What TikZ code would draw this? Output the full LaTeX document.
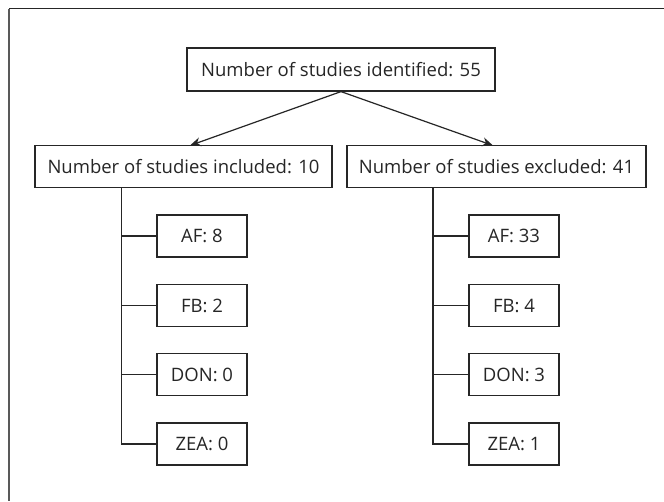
\documentclass[tikz,border=0pt]{standalone}
\usepackage{fontspec}
\setmainfont{Open Sans}
\usetikzlibrary{arrows.meta}
\begin{document}
\begin{tikzpicture}[x=1pt,y=-1pt,
  box/.style={draw=black!85,line width=1.2pt,fill=white,inner sep=0pt,font=\fontsize{18.5}{22}\selectfont,text=black!85},
  bigbox/.style={box,minimum height=42pt},
  smallbox/.style={box,minimum width=90pt,minimum height=42pt},
  conn/.style={draw=black!85,line width=1.2pt},
  arr/.style={conn,-{Stealth[length=11pt,width=9pt]}}]
\useasboundingbox (0,0) rectangle (664,501);
\fill[white] (0,0) rectangle (664,501);
\draw[black!85,line width=1.5pt] (664,8.5) -- (8.5,8.5);
\draw[black!65,line width=2pt] (8.5,8.5) -- (8.5,501);
\node[bigbox,minimum width=308pt,minimum height=43pt] (top) at (341,69.5) {Number of studies identified: 55};
\node[bigbox,minimum width=297pt] (inc) at (183.5,166.5) {Number of studies included: 10};
\node[bigbox,minimum width=299pt] (exc) at (496.5,166.5) {Number of studies excluded: 41};
\coordinate (ia) at (190,145.5);
\coordinate (ea) at (493,145.5);
\draw[arr] (top.south) -- (ia);
\draw[arr] (top.south) -- (ea);
\foreach \n/\y/\a/\b in {1/236/AF: 8/AF: 33, 2/305.5/FB: 2/FB: 4, 3/374.5/DON: 0/DON: 3, 4/444/ZEA: 0/ZEA: 1}{
  \node[smallbox] (l\n) at (202,\y) {\a};
  \node[smallbox] (r\n) at (514,\y) {\b};
}
\coordinate (lt) at (121.5,236);
\coordinate (rt) at (433,236);
\draw[conn] (lt |- inc.south) -- (lt |- l4.west) -- (l4.west);
\draw[conn] (rt |- exc.south) -- (rt |- r4.west) -- (r4.west);
\foreach \n in {1,2,3}{
  \draw[conn] (lt |- l\n.west) -- (l\n.west);
  \draw[conn] (rt |- r\n.west) -- (r\n.west);
}
\end{tikzpicture}
\end{document}
